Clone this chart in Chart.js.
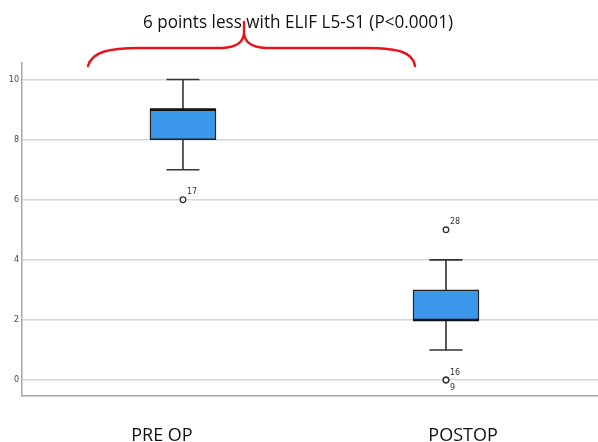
<!DOCTYPE html>
<html>
<head>
<meta charset="utf-8">
<script src="https://cdn.jsdelivr.net/npm/chart.js@4.4.1/dist/chart.umd.min.js"></script>
<style>
  html, body { margin: 0; padding: 0; background: #fff; overflow: hidden; }
  #wrap { width: 598px; height: 442px; position: relative; }
</style>
</head>
<body>
<div id="wrap"><canvas id="grafico"></canvas></div>
<script>
// datos
const grupos = ['PRE OP', 'POSTOP'];
const bigoteMin = [7, 1];
const cuartil1 = [8, 2];
const medianas = [9, 2];
const cuartil3 = [9, 3];
const bigoteMax = [10, 4];
const atipicosValor = [[6], [5, 0, 0]];
const atipicosCaso = [['17'], ['28', '16', '9']];
const ticksY = [0, 2, 4, 6, 8, 10];
const titulo = '6 points less with ELIF L5-S1 (P<0.0001)';

// posiciones de las etiquetas de grupo (en unidades del eje x)
const posEtiquetas = [-0.08, 1.065];

const puntosAtipicos = [];
atipicosValor.forEach((vals, i) => {
    vals.forEach((v, k) => puntosAtipicos.push({ x: i, y: v, caso: atipicosCaso[i][k] }));
});

const pluginCajas = {
    id: 'cajas',
    beforeDatasetsDraw(chart) {
        const { ctx, scales: { x, y } } = chart;
        ctx.save();
        ctx.strokeStyle = '#333';
        ctx.lineWidth = 1.6;
        grupos.forEach((g, i) => {
            const cx = x.getPixelForValue(i);
            const tope = 16.5;
            ctx.beginPath();
            ctx.moveTo(cx, y.getPixelForValue(bigoteMin[i]));
            ctx.lineTo(cx, y.getPixelForValue(cuartil1[i]));
            ctx.moveTo(cx, y.getPixelForValue(cuartil3[i]));
            ctx.lineTo(cx, y.getPixelForValue(bigoteMax[i]));
            ctx.moveTo(cx - tope, y.getPixelForValue(bigoteMin[i]));
            ctx.lineTo(cx + tope, y.getPixelForValue(bigoteMin[i]));
            ctx.moveTo(cx - tope, y.getPixelForValue(bigoteMax[i]));
            ctx.lineTo(cx + tope, y.getPixelForValue(bigoteMax[i]));
            ctx.stroke();
        });
        ctx.restore();
    },
    afterDatasetsDraw(chart) {
        const { ctx, scales: { x, y } } = chart;
        ctx.save();
        // medianas
        ctx.strokeStyle = '#111';
        ctx.lineWidth = 2.6;
        grupos.forEach((g, i) => {
            const cx = x.getPixelForValue(i);
            const py = y.getPixelForValue(medianas[i]);
            ctx.beginPath();
            ctx.moveTo(cx - 33, py);
            ctx.lineTo(cx + 33, py);
            ctx.stroke();
        });
        // numeros de caso de los atipicos
        ctx.fillStyle = '#333';
        ctx.font = '8px "DejaVu Sans"';
        ctx.textBaseline = 'middle';
        ctx.textAlign = 'left';
        const vistos = {};
        puntosAtipicos.forEach(p => {
            const clave = p.x + '_' + p.y;
            const n = vistos[clave] || 0;
            vistos[clave] = n + 1;
            const px = x.getPixelForValue(p.x);
            const py = y.getPixelForValue(p.y);
            ctx.fillText(p.caso, px + 4, n === 0 ? py - 7.5 : py + 7.5);
        });
        ctx.restore();
    },
    afterDraw(chart) {
        const { ctx, scales: { x } } = chart;
        ctx.save();
        // titulo, ajustado al ancho del original
        ctx.fillStyle = '#111';
        ctx.font = '18px "Open Sans"';
        ctx.textAlign = 'center';
        ctx.textBaseline = 'alphabetic';
        const ancho = ctx.measureText(titulo).width;
        ctx.translate(298, 28);
        ctx.scale(310 / ancho, 1);
        ctx.fillText(titulo, 0, 0);
        ctx.restore();

        // llave roja
        ctx.save();
        ctx.strokeStyle = '#e8141b';
        ctx.lineWidth = 2.4;
        ctx.lineCap = 'round';
        ctx.beginPath();
        ctx.moveTo(88, 66);
        ctx.bezierCurveTo(92, 52, 108, 48, 140, 48);
        ctx.lineTo(222, 48);
        ctx.quadraticCurveTo(244, 47, 244, 32);
        ctx.lineTo(244, 22);
        ctx.moveTo(244, 32);
        ctx.quadraticCurveTo(244, 47, 266, 48);
        ctx.lineTo(365, 48);
        ctx.bezierCurveTo(398, 48, 413, 52, 415, 66);
        ctx.stroke();
        ctx.restore();

        // etiquetas de grupo
        ctx.save();
        ctx.fillStyle = '#111';
        ctx.font = '18px "Open Sans"';
        ctx.textAlign = 'center';
        ctx.textBaseline = 'alphabetic';
        grupos.forEach((g, i) => {
            ctx.fillText(g, x.getPixelForValue(posEtiquetas[i]), 441);
        });
        ctx.restore();
    }
};

new Chart(document.getElementById('grafico'), {
    type: 'bar',
    data: {
        datasets: [
            {
                type: 'bar',
                data: grupos.map((g, i) => ({ x: i, y: [cuartil1[i], cuartil3[i]] })),
                backgroundColor: '#3b97e9',
                borderColor: '#222',
                borderWidth: 1.4,
                borderSkipped: false,
                barThickness: 66
            },
            {
                type: 'scatter',
                data: puntosAtipicos,
                pointStyle: 'circle',
                pointRadius: 2.8,
                backgroundColor: '#fff',
                borderColor: '#333',
                borderWidth: 1.3
            }
        ]
    },
    options: {
        responsive: true,
        maintainAspectRatio: false,
        animation: false,
        layout: { autoPadding: false, padding: { top: 63, bottom: 46, left: 0, right: 0 } },
        scales: {
            x: {
                type: 'linear',
                offset: false,
                min: -0.612,
                max: 1.578,
                ticks: { display: false },
                grid: { display: false, drawTicks: false },
                border: { display: true, color: '#a8a8a8', width: 1.5 },
                afterFit(s) { s.height = 0; s.paddingLeft = 0; s.paddingRight = 0; }
            },
            y: {
                min: -0.53,
                max: 10.55,
                afterBuildTicks(s) { s.ticks = ticksY.map(v => ({ value: v })); },
                ticks: { font: { size: 8, family: 'DejaVu Sans' }, color: '#444', padding: 3 },
                grid: { color: '#d6d6d6', lineWidth: 1.5, drawTicks: false },
                border: { color: '#a8a8a8', width: 1.5 },
                afterFit(s) { s.width = 22; }
            }
        },
        plugins: {
            legend: { display: false },
            tooltip: { enabled: false }
        }
    },
    plugins: [pluginCajas]
});
</script>
</body>
</html>
